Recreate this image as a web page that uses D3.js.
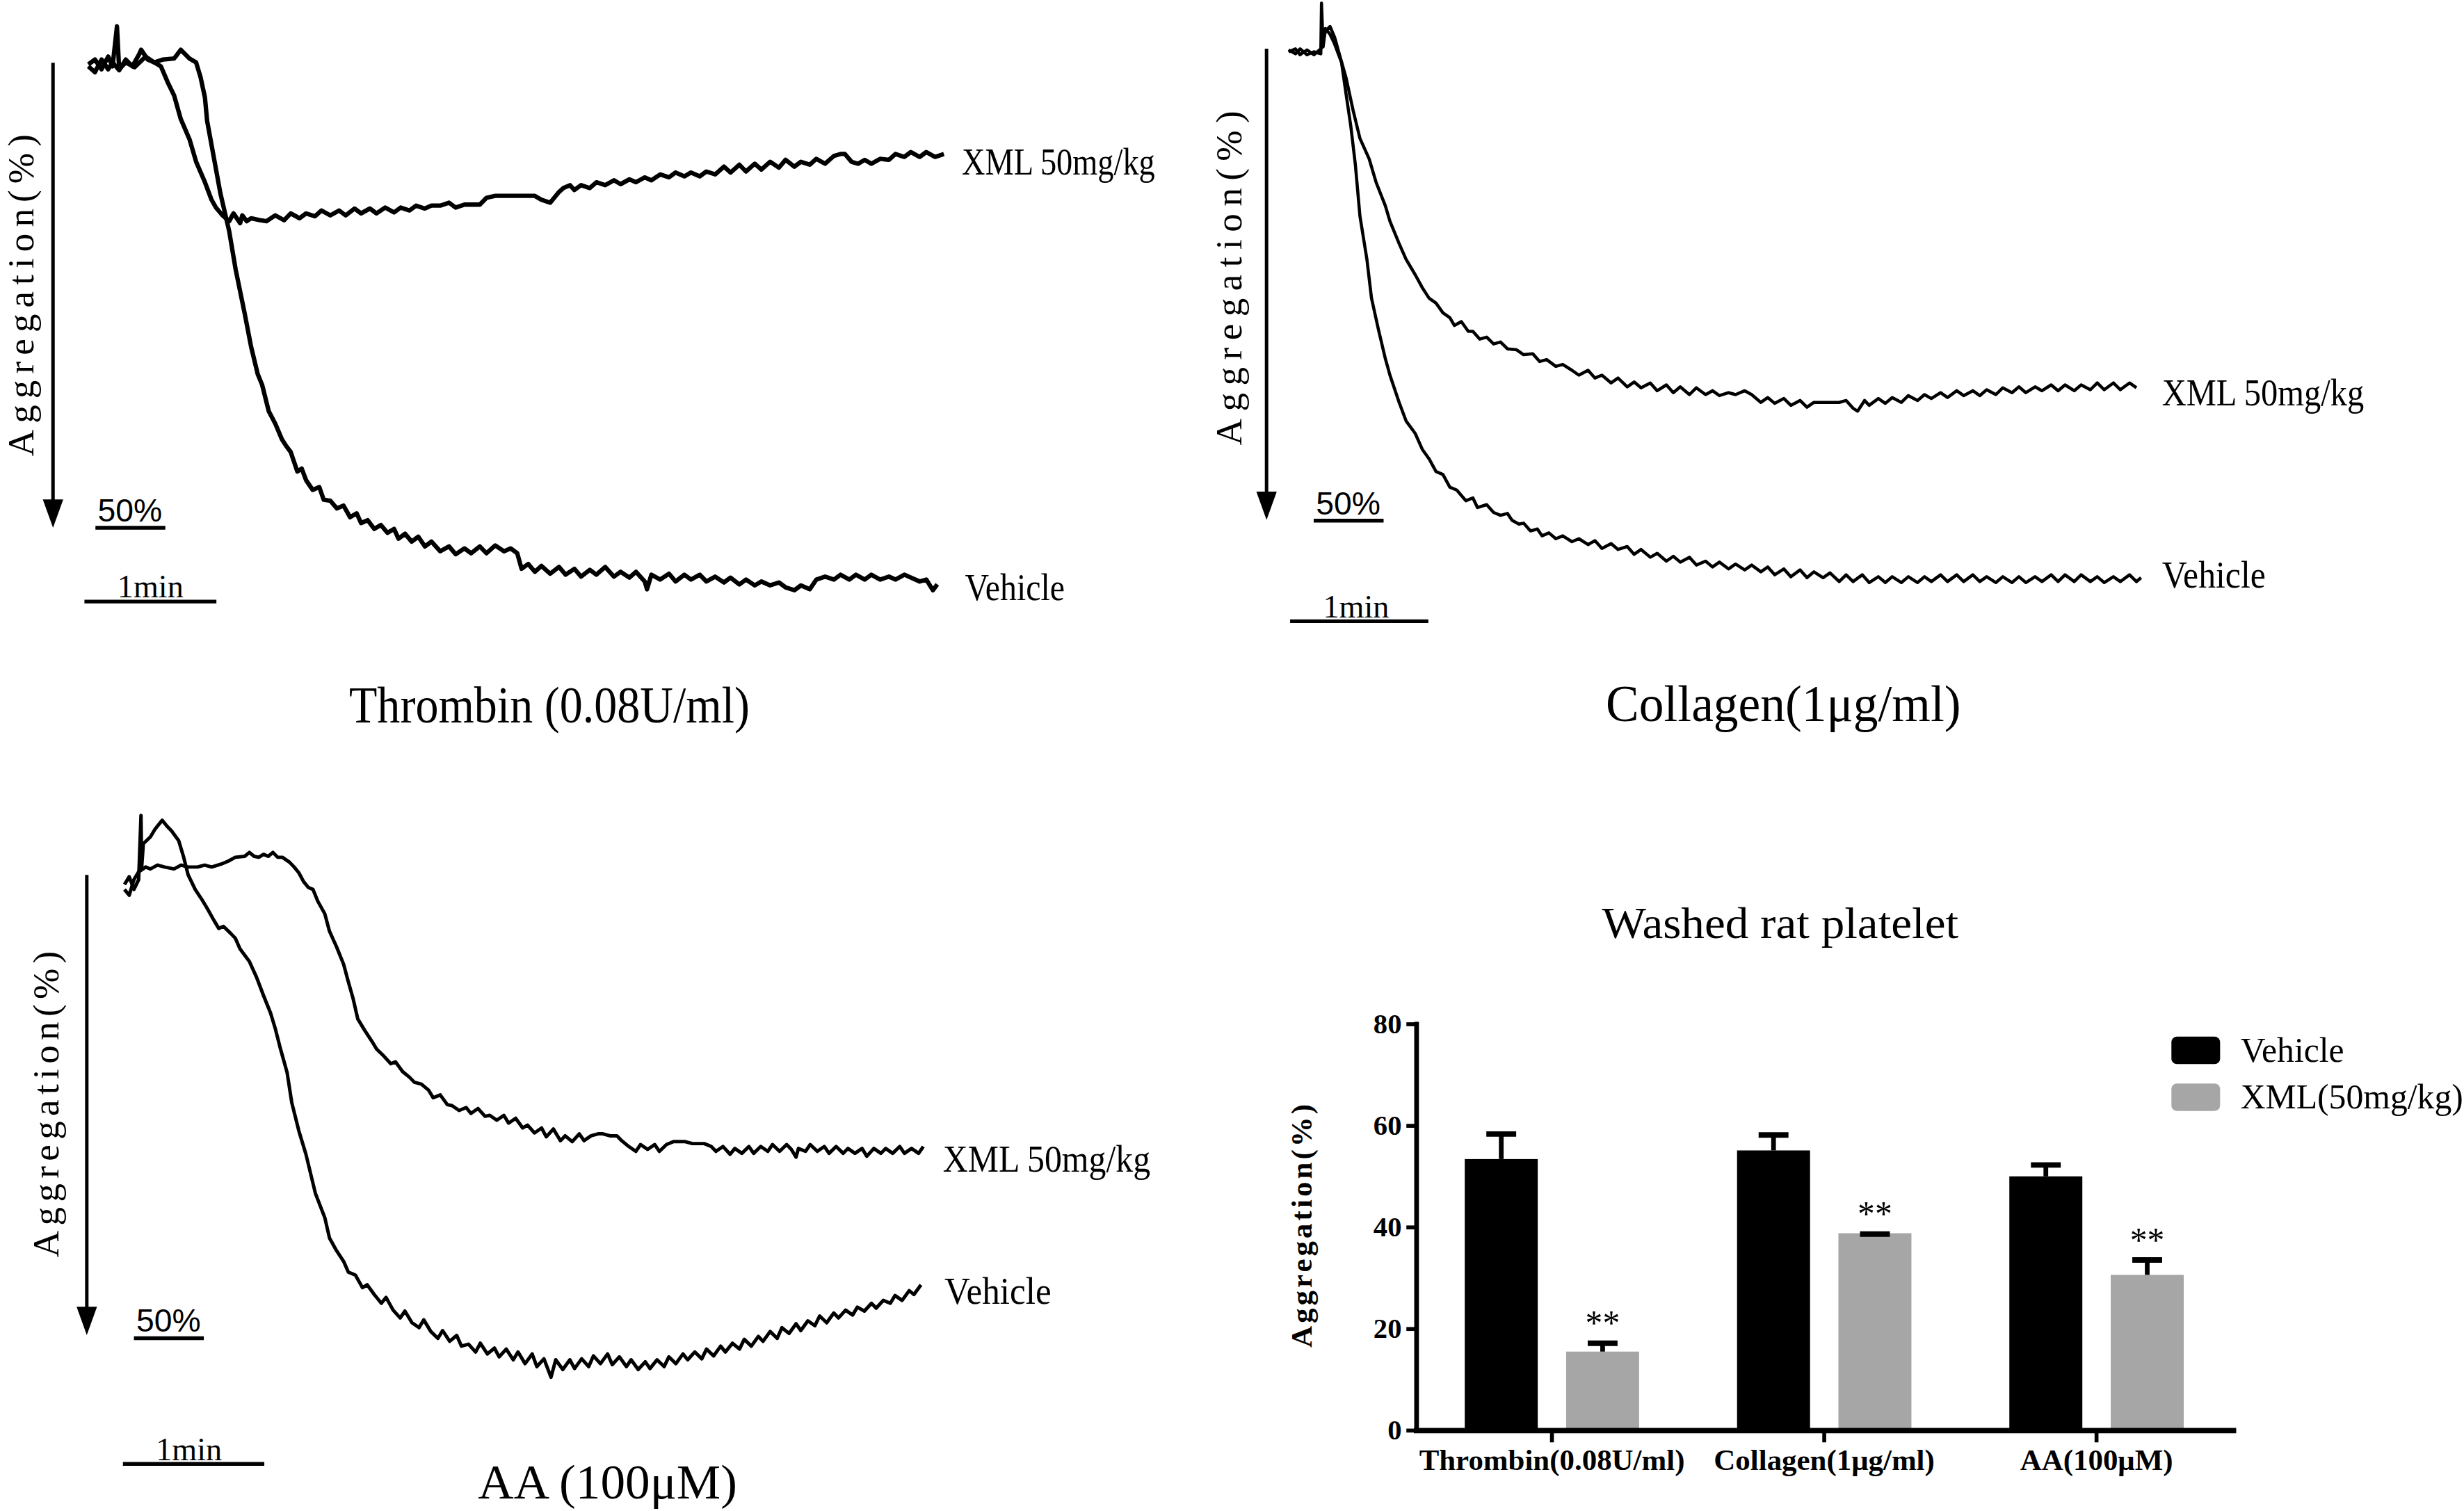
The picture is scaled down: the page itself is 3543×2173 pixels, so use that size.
<!DOCTYPE html>
<html>
<head>
<meta charset="utf-8">
<script src="https://cdn.jsdelivr.net/npm/d3@7"></script>
<style>
  html, body { margin: 0; padding: 0; background: #fff; }
  svg { display: block; }
  text { font-family: "Liberation Serif", "Times New Roman", serif; fill: #000; }
</style>
</head>
<body>
<svg id="fig"></svg>
<script>
// ---- aggregation traces: [time (s), aggregation (%)] ----
var thrombinVehicle = [[0,0],[3,-0.5],[6,0.5],[9,-0.8],[11,0.2],[13,-3.9],[14,0.5],[17,-0.2],[21,0.3],[26,-0.8],[30,-0.2],[34,-0.5],[39,-0.6],[42,-1.5],[46,-0.6],[49,-0.2],[51,1.3],[53,3.4],[54,5.8],[57,9.5],[60,13.2],[64,17.1],[67,21.1],[71,25.5],[74,29.0],[77,31.8],[79,32.9],[82,35.6],[85,36.9],[88,38.5],[90,39.2],[92,39.8],[95,41.8],[97,41.5],[99,42.7],[102,43.7],[105,43.4],[107,44.7],[110,44.8],[113,45.6],[116,45.3],[119,46.5],[122,46.1],[124,47.1],[127,46.8],[130,47.7],[133,47.3],[136,48.1],[139,47.7],[141,48.7],[144,48.2],[147,49.0],[150,48.5],[153,49.5],[156,49.0],[160,50.0],[164,49.5],[167,50.3],[171,49.7],[174,50.2],[178,49.5],[181,50.2],[185,49.4],[189,50.0],[192,49.7],[195,50.2],[197,51.8],[200,51.3],[203,52.1],[206,51.5],[210,52.3],[214,51.6],[217,52.4],[221,51.8],[224,52.6],[228,51.9],[231,52.4],[235,51.6],[239,52.6],[242,52.1],[246,52.7],[249,52.1],[253,53.1],[254,53.9],[256,52.4],[260,52.9],[264,52.3],[267,53.1],[271,52.4],[274,52.9],[278,52.4],[281,53.1],[285,52.6],[289,53.2],[292,52.7],[296,53.4],[299,52.9],[303,53.5],[306,53.1],[310,53.5],[314,53.2],[317,53.7],[321,54.0],[324,53.5],[328,53.9],[331,52.9],[335,52.6],[339,52.9],[342,52.4],[346,52.9],[349,52.4],[353,52.9],[356,52.4],[360,52.9],[364,52.6],[367,52.9],[371,52.4],[374,52.7],[378,53.1],[381,52.9],[384,54.0],[386,53.4]];

var thrombinXml = [[0,0.2],[3,0.8],[6,-0.5],[9,0.5],[11,-0.2],[14,0.6],[17,-0.5],[20,0.2],[23,-1.0],[24,-1.5],[27,-0.5],[30,-0.2],[33,0.2],[36,1.8],[39,3.2],[42,5.6],[46,7.7],[49,10.0],[53,12.1],[56,13.9],[58,14.7],[61,15.5],[64,16.1],[66,15.3],[69,16.3],[70,15.5],[72,16.1],[74,15.8],[78,16.0],[81,16.1],[85,15.5],[89,16.0],[92,15.3],[96,15.8],[99,15.3],[103,15.6],[106,15.0],[110,15.5],[114,15.0],[117,15.5],[121,14.8],[124,15.3],[128,14.8],[131,15.3],[135,14.7],[139,15.2],[142,14.7],[146,15.0],[149,14.5],[153,14.8],[156,14.5],[160,14.5],[164,14.2],[167,14.7],[171,14.4],[174,14.4],[178,14.4],[181,13.7],[185,13.5],[189,13.5],[192,13.5],[196,13.5],[203,13.5],[206,13.9],[210,14.2],[214,13.1],[216,12.7],[219,12.4],[221,12.9],[224,12.4],[228,12.7],[231,12.1],[235,12.4],[239,11.9],[242,12.3],[246,11.8],[249,12.1],[253,11.6],[256,11.9],[260,11.3],[264,11.6],[267,11.1],[271,11.5],[274,11.1],[278,11.5],[281,11.0],[285,11.3],[289,10.5],[292,11.1],[296,10.3],[299,11.0],[303,10.2],[306,10.8],[310,10.0],[314,10.6],[317,9.8],[321,10.5],[324,10.0],[328,10.3],[331,9.7],[335,10.2],[339,9.4],[342,9.2],[344,9.2],[347,10.0],[350,10.2],[353,9.8],[356,10.2],[360,9.7],[364,9.8],[367,9.2],[371,9.5],[374,9.0],[378,9.5],[381,9.0],[385,9.5],[389,9.2]];

var collagenVehicle = [[0,-0.2],[3,0.2],[5,-0.3],[8,0.3],[11,0],[14,0.2],[14.3,-5.0],[15,-0.5],[16,-2.4],[18,-1.8],[20,-0.8],[23,1.1],[25,4.4],[27,7.6],[29,11.6],[31,16.9],[34,21.3],[36,25.3],[39,28.5],[42,31.5],[44,33.2],[48,36.0],[51,37.9],[55,39.2],[58,40.8],[61,41.8],[64,43.1],[67,43.4],[70,44.7],[73,45.0],[77,46.1],[80,45.8],[82,46.8],[86,46.5],[89,47.3],[92,47.6],[95,47.4],[97,48.1],[100,48.5],[102,48.4],[105,49.2],[108,49.0],[110,49.7],[113,49.4],[116,50.0],[119,49.7],[123,50.3],[126,50.0],[130,50.6],[133,50.2],[136,51.0],[140,50.5],[143,51.1],[147,50.8],[150,51.6],[153,51.1],[157,51.9],[160,51.5],[164,52.3],[167,51.8],[170,52.4],[174,51.9],[177,52.7],[181,52.3],[184,52.9],[187,52.4],[191,53.1],[194,52.6],[198,53.2],[201,52.7],[205,53.4],[208,52.9],[211,53.7],[215,53.1],[218,53.9],[222,53.2],[225,54.0],[228,53.4],[232,54.0],[235,53.5],[239,54.4],[242,53.7],[245,54.4],[249,53.7],[252,54.5],[256,53.9],[259,54.5],[262,53.9],[266,54.5],[269,53.9],[273,54.5],[276,53.9],[279,54.4],[283,53.7],[286,54.4],[290,53.7],[293,54.4],[297,53.7],[300,54.4],[303,53.9],[307,54.5],[310,53.9],[314,54.5],[317,53.9],[320,54.5],[324,53.9],[327,54.4],[331,53.7],[334,54.4],[337,53.7],[341,54.4],[344,53.7],[348,54.4],[351,53.9],[354,54.5],[358,53.9],[361,54.4],[365,53.7],[368,54.4],[370,54.0]];

var collagenXml = [[0,0],[3,-0.3],[5,0.3],[8,-0.2],[11,0.3],[14,-0.3],[16,-2.1],[18,-2.6],[20,-1.5],[22,0.2],[25,2.7],[28,6.0],[31,8.9],[35,11.0],[38,13.4],[42,15.8],[44,17.4],[48,19.7],[51,21.3],[55,22.9],[58,24.2],[61,25.3],[64,25.8],[67,26.8],[70,27.3],[72,28.1],[75,27.7],[78,28.7],[80,28.7],[83,29.5],[86,29.3],[89,30.0],[92,29.8],[95,30.5],[99,30.6],[102,31.1],[106,31.0],[109,31.8],[112,31.6],[116,32.3],[119,32.1],[123,32.7],[126,33.2],[130,32.7],[133,33.5],[136,33.2],[140,34.0],[143,33.5],[147,34.4],[150,33.9],[153,34.5],[157,34.0],[160,34.8],[164,34.2],[167,35.0],[170,34.4],[174,35.2],[177,34.5],[181,35.2],[184,34.8],[187,35.3],[191,35.0],[194,35.2],[198,34.8],[201,35.2],[205,36.0],[208,35.5],[211,36.1],[215,35.6],[218,36.3],[222,35.8],[225,36.5],[228,36.0],[232,36.0],[239,36.0],[242,35.8],[245,36.6],[247,36.9],[250,35.8],[252,36.3],[256,35.6],[259,36.1],[262,35.5],[266,36.0],[269,35.3],[273,35.8],[276,35.2],[279,35.6],[283,35.0],[286,35.5],[290,34.8],[293,35.3],[297,34.8],[300,35.3],[303,34.7],[307,35.2],[310,34.5],[314,35.0],[317,34.4],[320,35.0],[324,34.4],[327,34.8],[331,34.2],[334,34.8],[337,34.2],[341,34.8],[344,34.2],[348,34.7],[351,34.0],[354,34.7],[358,34.0],[361,34.7],[365,34.0],[368,34.5]];

var aaVehicle = [[0,1.8],[2,1.0],[4,2.3],[6,1.3],[7,-5.3],[7.3,0],[8,-2.4],[11,-3.1],[13,-3.9],[16,-4.8],[18,-4.2],[20,-3.7],[23,-2.7],[25,-1.1],[27,0.8],[30,2.3],[33,3.4],[35,4.2],[38,5.5],[40,6.3],[42,6.1],[45,6.8],[47,7.3],[49,8.4],[53,9.7],[56,11.3],[59,13.2],[62,15.0],[64,16.6],[66,18.5],[69,21.1],[71,24.2],[74,27.1],[77,29.5],[79,31.5],[81,33.5],[85,36.0],[87,38.1],[90,39.4],[93,40.5],[95,41.6],[98,41.9],[101,43.2],[103,42.9],[106,43.9],[109,44.8],[111,44.2],[114,45.5],[117,46.3],[119,45.6],[122,46.8],[125,47.3],[127,46.5],[130,47.7],[133,48.4],[135,47.6],[138,48.7],[141,48.1],[143,49.2],[146,49.0],[149,49.8],[151,48.9],[154,50.0],[157,49.4],[159,50.3],[162,49.5],[165,50.6],[167,49.8],[170,51.0],[173,50.0],[175,51.3],[178,50.5],[181,52.4],[183,50.6],[186,51.6],[189,50.6],[191,51.5],[194,50.5],[197,51.3],[199,50.2],[202,51.0],[205,50.0],[207,51.1],[210,50.3],[213,51.3],[215,50.6],[218,51.6],[221,50.8],[223,51.5],[226,50.6],[229,51.3],[231,50.3],[234,51.0],[237,50.0],[239,50.6],[242,49.8],[245,50.5],[247,49.5],[250,50.2],[253,49.2],[255,49.8],[258,48.9],[261,49.5],[263,48.5],[266,49.2],[269,48.2],[271,48.7],[274,47.7],[277,48.4],[279,47.3],[282,47.9],[285,46.9],[287,47.6],[290,46.6],[293,47.1],[295,46.1],[298,46.8],[301,45.8],[303,46.3],[306,45.5],[309,46.0],[311,45.2],[314,45.6],[317,44.8],[319,45.3],[322,44.5],[325,44.8],[327,44.0],[330,44.5],[333,43.5],[335,43.9],[338,42.9]];

var aaXml = [[0,2.3],[2,2.9],[4,1.3],[6,0.5],[9,0],[11,0.2],[14,-0.2],[17,0],[21,0.2],[24,-0.2],[27,0],[31,0],[34,-0.2],[37,0],[41,-0.3],[44,-0.6],[47,-1.0],[51,-1.1],[53,-1.5],[55,-1.1],[57,-1.0],[59,-1.3],[61,-1.1],[63,-1.5],[65,-1.0],[67,-1.0],[70,-0.5],[72,0],[74,0.6],[76,1.5],[78,2.1],[80,2.3],[82,3.5],[85,4.8],[87,6.6],[90,8.2],[93,10.0],[95,11.8],[97,13.5],[99,15.6],[102,16.8],[105,17.9],[107,18.7],[110,19.4],[113,20.2],[115,20.0],[118,21.0],[121,21.6],[123,22.1],[126,22.3],[129,22.9],[131,23.7],[134,23.4],[137,24.4],[139,24.5],[142,25.0],[145,24.7],[147,25.3],[150,24.8],[153,25.6],[155,25.5],[158,26.0],[161,25.5],[163,26.3],[166,25.8],[169,26.8],[171,26.5],[174,27.3],[177,26.8],[179,27.7],[182,26.9],[185,28.1],[187,27.6],[190,28.2],[193,27.4],[195,28.1],[198,27.6],[201,27.4],[203,27.4],[206,27.6],[209,27.6],[211,28.1],[214,28.7],[217,29.2],[219,28.5],[222,29.0],[225,28.5],[227,29.2],[230,28.5],[233,28.2],[235,28.2],[238,28.2],[241,28.4],[243,28.4],[246,28.4],[249,28.7],[251,29.2],[254,28.7],[257,29.5],[259,28.9],[262,29.4],[265,28.7],[267,29.4],[270,28.7],[273,29.2],[275,28.5],[278,29.2],[281,28.5],[283,29.0],[285,29.8],[286,28.9],[289,29.2],[291,28.5],[294,29.2],[297,28.7],[299,29.4],[302,28.7],[305,29.4],[307,28.9],[310,29.4],[313,28.9],[315,29.7],[318,28.9],[321,29.4],[323,28.9],[326,29.4],[329,28.7],[331,29.4],[334,28.9],[337,29.4],[339,28.7]];

// ---- bar chart ----
var categories = ["Thrombin(0.08U/ml)", "Collagen(1\u03bcg/ml)", "AA(100\u03bcM)"];
var seriesNames = ["Vehicle", "XML(50mg/kg)"];
var vehicleMean = [53.3, 55.0, 49.9];
var vehicleErr = [5.4, 3.5, 2.7];
var xmlMean = [15.4, 38.7, 30.5];
var xmlErr = [2.1, 0.3, 3.4];
var yTicks = [0, 20, 40, 60, 80];
var stars = ["**", "**", "**"];

var W = 1568, H = 962;
var svg = d3.select("#fig")
  .attr("width", 3543).attr("height", 2173)
  .attr("viewBox", "0 0 " + W + " " + H);

var serif = '"Liberation Serif", "Times New Roman", serif';
var sans = '"Liberation Sans", Arial, sans-serif';

// one aggregometer panel
function drawPanel(p) {
  var g = svg.append("g");
  var x = d3.scaleLinear().domain([0, 60]).range([p.x0, p.x0 + p.pxPerMin]);
  var y = d3.scaleLinear().domain([0, 10]).range([p.y0, p.y0 + 62]);
  var line = d3.line().x(function(d) { return x(d[0]); }).y(function(d) { return y(d[1]); });

  [p.xml, p.vehicle].forEach(function(tr) {
    g.append("path").datum(tr)
      .attr("d", line)
      .attr("fill", "none")
      .attr("stroke", "#000")
      .attr("stroke-width", p.lw)
      .attr("stroke-linejoin", "round");
  });

  // down arrow + rotated label
  g.append("line")
    .attr("x1", p.arrowX).attr("x2", p.arrowX)
    .attr("y1", p.arrowTop).attr("y2", p.arrowBot - 14)
    .attr("stroke", "#000").attr("stroke-width", 2.2);
  g.append("path")
    .attr("d", "M" + (p.arrowX - 6.5) + "," + (p.arrowBot - 18) + "L" + (p.arrowX + 6.5) + "," + (p.arrowBot - 18) + "L" + p.arrowX + "," + p.arrowBot + "Z")
    .attr("fill", "#000");
  g.append("text")
    .attr("transform", "translate(" + p.labX + "," + p.labY + ") rotate(-90)")
    .attr("text-anchor", "middle")
    .attr("font-size", 23.5)
    .attr("textLength", p.labLen)
    .text("Aggregation(%)");

  // 50% scale mark
  g.append("text")
    .attr("x", p.pctX).attr("y", p.pctY)
    .style("font-family", sans)
    .attr("font-size", 20.5)
    .text("50%");
  g.append("line")
    .attr("x1", p.pctX - 1.5).attr("x2", p.pctX + 43)
    .attr("y1", p.pctY + 4).attr("y2", p.pctY + 4)
    .attr("stroke", "#000").attr("stroke-width", 2.4);

  // 1 min scale bar, length from the time scale
  g.append("line")
    .attr("x1", p.minX).attr("x2", p.minX + x(60) - x(0))
    .attr("y1", p.minY).attr("y2", p.minY)
    .attr("stroke", "#000").attr("stroke-width", 2.4);
  g.append("text")
    .attr("x", p.minX + 21).attr("y", p.minY - 2.5)
    .attr("font-size", 21)
    .attr("textLength", 42).attr("lengthAdjust", "spacingAndGlyphs")
    .text("1min");

  // trace labels
  g.append("text").attr("x", p.xmlLab[0]).attr("y", p.xmlLab[1])
    .attr("font-size", 24).attr("textLength", p.xmlLab[2]).attr("lengthAdjust", "spacingAndGlyphs")
    .text("XML 50mg/kg");
  g.append("text").attr("x", p.vehLab[0]).attr("y", p.vehLab[1])
    .attr("font-size", 24).attr("textLength", p.vehLab[2]).attr("lengthAdjust", "spacingAndGlyphs")
    .text("Vehicle");

  // panel title
  g.append("text").attr("x", p.title[0]).attr("y", p.title[1])
    .attr("font-size", p.title[3]).attr("textLength", p.title[2]).attr("lengthAdjust", "spacingAndGlyphs")
    .text(p.titleText);
}

drawPanel({
  vehicle: thrombinVehicle, xml: thrombinXml, lw: 2.8,
  x0: 56, pxPerMin: 84, y0: 41,
  arrowX: 33.5, arrowTop: 40, arrowBot: 336,
  labX: 21, labY: 188, labLen: 205,
  pctX: 62, pctY: 332, minX: 53.5, minY: 383,
  xmlLab: [612, 111, 123], vehLab: [614, 382, 63.5],
  title: [222, 460, 255, 33], titleText: "Thrombin (0.08U/ml)"
});
drawPanel({
  vehicle: collagenVehicle, xml: collagenXml, lw: 2,
  x0: 820, pxPerMin: 88, y0: 33,
  arrowX: 806, arrowTop: 31, arrowBot: 331,
  labX: 790, labY: 177, labLen: 213,
  pctX: 837.5, pctY: 327.5, minX: 821, minY: 395.5,
  xmlLab: [1376, 258, 128.6], vehLab: [1376, 374, 66],
  title: [1022, 459, 226, 33], titleText: "Collagen(1\u03bcg/ml)"
});
drawPanel({
  vehicle: aaVehicle, xml: aaXml, lw: 2.2,
  x0: 79, pxPerMin: 90, y0: 552,
  arrowX: 55, arrowTop: 557, arrowBot: 850,
  labX: 37, labY: 703, labLen: 195,
  pctX: 86.5, pctY: 848, minX: 78, minY: 932,
  xmlLab: [600, 746, 132], vehLab: [601, 830, 68],
  title: [304, 954, 165, 31], titleText: "AA (100\u03bcM)"
});

// ---- bar chart: Washed rat platelet ----
var bx = d3.scaleBand().domain(categories).range([901, 1421]).paddingInner(0).paddingOuter(0);
var bs = d3.scaleBand().domain(seriesNames).range([-55.5, 55.5]).paddingInner(0.28);
var by = d3.scaleLinear().domain([0, 80]).range([910.3, 651.6]);
var colors = { "Vehicle": "#000000", "XML(50mg/kg)": "#a6a6a6" };

var rows = [];
categories.forEach(function(c, i) {
  rows.push({ cat: c, s: seriesNames[0], v: vehicleMean[i], e: vehicleErr[i], star: "" });
  rows.push({ cat: c, s: seriesNames[1], v: xmlMean[i], e: xmlErr[i], star: stars[i] });
});

var bg = svg.append("g");
var cx = function(d) { return bx(d.cat) + bx.bandwidth() / 2 + bs(d.s) + bs.bandwidth() / 2; };

bg.selectAll("rect.bar").data(rows).enter().append("rect")
  .attr("class", "bar")
  .attr("x", function(d) { return bx(d.cat) + bx.bandwidth() / 2 + bs(d.s); })
  .attr("y", function(d) { return by(d.v); })
  .attr("width", bs.bandwidth())
  .attr("height", function(d) { return by(0) - by(d.v); })
  .attr("fill", function(d) { return colors[d.s]; });

// one-sided error bars
bg.selectAll("line.stem").data(rows).enter().append("line")
  .attr("x1", cx).attr("x2", cx)
  .attr("y1", function(d) { return by(d.v); })
  .attr("y2", function(d) { return by(d.v + d.e); })
  .attr("stroke", "#000").attr("stroke-width", 3);
bg.selectAll("line.cap").data(rows).enter().append("line")
  .attr("x1", function(d) { return cx(d) - 9.5; })
  .attr("x2", function(d) { return cx(d) + 9.5; })
  .attr("y1", function(d) { return by(d.v + d.e) + 1.5; })
  .attr("y2", function(d) { return by(d.v + d.e) + 1.5; })
  .attr("stroke", "#000").attr("stroke-width", 3.5);

bg.selectAll("text.star").data(rows.filter(function(d) { return d.star; })).enter().append("text")
  .attr("x", cx)
  .attr("y", function(d) { return by(d.v + d.e) - 4; })
  .attr("text-anchor", "middle")
  .attr("font-size", 22)
  .text(function(d) { return d.star; });

// axes
var yAxis = bg.append("g").attr("transform", "translate(901,0)")
  .call(d3.axisLeft(by).tickValues(yTicks).tickSize(6).tickSizeOuter(0).tickPadding(3));
var xAxis = bg.append("g").attr("transform", "translate(0,910.3)")
  .call(d3.axisBottom(bx).tickSize(8).tickSizeOuter(0).tickPadding(4));
yAxis.select(".domain").attr("stroke-width", 3).attr("stroke-linecap", "square");
xAxis.select(".domain").attr("stroke-width", 3.5).attr("stroke-linecap", "square");
yAxis.selectAll(".tick line").attr("stroke-width", 2.5);
xAxis.selectAll(".tick line").attr("stroke-width", 2.5);
yAxis.selectAll("text").style("font-family", serif).attr("font-size", 18).attr("font-weight", "bold");
xAxis.selectAll("text").style("font-family", serif).attr("font-size", 19).attr("font-weight", "bold");

bg.append("text")
  .attr("transform", "translate(834.5,780.5) rotate(-90)")
  .attr("text-anchor", "middle")
  .attr("font-size", 19).attr("font-weight", "bold")
  .attr("textLength", 155)
  .text("Aggregation(%)");

bg.append("text")
  .attr("x", 1133).attr("y", 597)
  .attr("text-anchor", "middle")
  .attr("font-size", 28)
  .attr("textLength", 227).attr("lengthAdjust", "spacingAndGlyphs")
  .text("Washed rat platelet");

// legend
var leg = bg.selectAll("g.leg").data(seriesNames).enter().append("g")
  .attr("transform", function(d, i) { return "translate(1382," + (660 + i * 29.8) + ")"; });
leg.append("rect").attr("width", 31).attr("height", 17.5).attr("rx", 3.5)
  .attr("fill", function(d) { return colors[d]; });
leg.append("text").attr("x", 44).attr("y", 16)
  .attr("font-size", 22)
  .text(function(d) { return d; });
</script>
</body>
</html>
